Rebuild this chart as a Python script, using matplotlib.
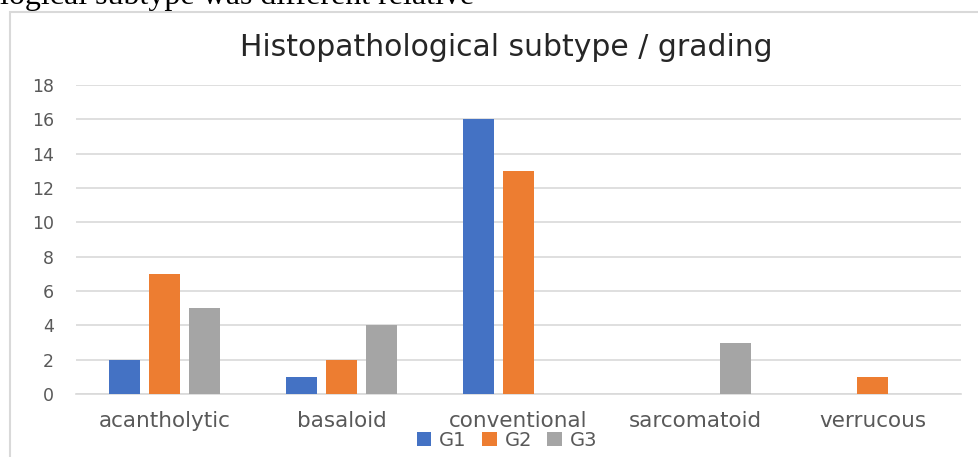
import numpy as np
import matplotlib.pyplot as plt
from matplotlib.patches import Rectangle

categories = ['acantholytic', 'basaloid', 'conventional', 'sarcomatoid', 'verrucous']
g1 = [2, 1, 16, 0, 0]
g2 = [7, 2, 13, 0, 1]
g3 = [5, 4, 0, 3, 0]
series = ['G1', 'G2', 'G3']
colors = ['#4472C4', '#ED7D31', '#A5A5A5']

fig = plt.figure(figsize=(9.79, 4.57), dpi=100)

# text from the page above the chart (cut off by the crop)
fig.text(0.0, 1 - 4 / 457, 'logical subtype was different relative', family='Liberation Serif',
         fontsize=23, va='baseline', ha='left')

# chart frame
fig.patches.append(Rectangle((10 / 979, -0.1), 1.1, 1 - 12 / 457 + 0.1, transform=fig.transFigure,
                             fill=False, edgecolor='#d9d9d9', linewidth=1.5))

ax = fig.add_axes([76 / 979, 1 - 394 / 457, (961 - 76) / 979, (394 - 85) / 457])
x = np.arange(len(categories))
w = 0.175
offsets = [-0.225, 0.0, 0.225]
for vals, name, c, o in zip([g1, g2, g3], series, colors, offsets):
    ax.bar(x + o, vals, w, color=c, label=name, zorder=3)

ax.set_xlim(-0.5, len(categories) - 0.5)
ax.set_ylim(0, 18)
ax.set_yticks(range(0, 19, 2))
ax.set_xticks(x)
ax.set_xticklabels(categories)
ax.grid(axis='y', color='#d9d9d9', linewidth=1.2, zorder=0)
for s in ['top', 'right', 'left']:
    ax.spines[s].set_visible(False)
ax.spines['bottom'].set_color('#d9d9d9')
ax.spines['bottom'].set_linewidth(1.2)
ax.tick_params(axis='y', length=0, labelsize=12.5, pad=16, labelcolor='#595959')
ax.tick_params(axis='x', length=0, labelsize=15.5, pad=12, labelcolor='#595959')

fig.text(506 / 979, 1 - 47 / 457, 'Histopathological subtype / grading',
         fontsize=21.5, color='#262626', ha='center', va='center')

leg = fig.legend(loc='center', bbox_to_anchor=(507 / 979, 1 - 440 / 457), ncol=3, frameon=False,
                 handlelength=0.75, handleheight=0.75, handletextpad=0.4, columnspacing=0.8,
                 borderpad=0, fontsize=14)
for t in leg.get_texts():
    t.set_color('#595959')

fig.savefig('out.png', dpi=100)
